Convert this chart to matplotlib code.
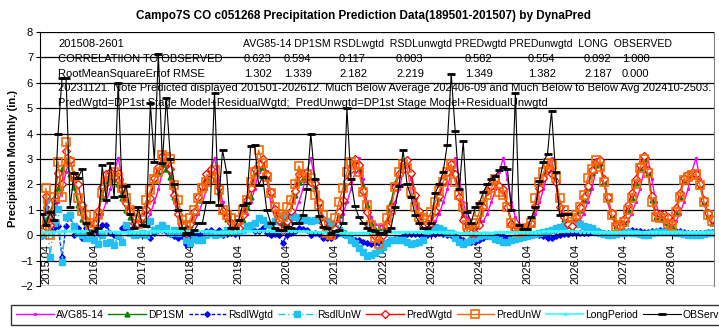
import numpy as np
import matplotlib.pyplot as plt

plt.rcParams['font.family'] = ['Liberation Sans', 'DejaVu Sans']

# ---------------------------------------------------------------------------
# DATA  (monthly, first point = 2015.03, one row per 12 months)
# ---------------------------------------------------------------------------

# 1985-2014 monthly average, same every year
avg85_14 = [0.35, 0.4, 0.55, 0.85, 1.3, 1.8, 2.5, 3.05, 2.2, 1.3, 0.7, 0.45]

dp1sm = [
    [0.2, 0.6, 0.9, 1.35, 1.85, 2.6, 2.95, 2.4, 1.9, 1.2, 0.65, 0.5],
    [0.3, 0.35, 0.9, 1.55, 2.05, 2.2, 2.3, 2.0, 1.45, 1.0, 0.7, 0.45],
    [0.4, 0.6, 1.0, 1.55, 2.15, 2.5, 2.8, 2.6, 2.3, 1.5, 0.9, 0.45],
    [0.3, 0.4, 0.9, 1.4, 1.9, 2.25, 2.4, 2.2, 1.7, 0.95, 0.65, 0.4],
    [0.25, 0.2, 0.6, 1.1, 1.5, 2.45, 2.65, 2.7, 2.3, 1.7, 1.0, 0.6],
    [0.5, 0.5, 0.85, 1.6, 2.1, 2.2, 2.2, 2.1, 1.95, 1.25, 0.6, 0.35],
    [0.15, 0.3, 0.8, 1.35, 2.15, 2.7, 2.95, 2.6, 1.95, 1.2, 0.5, 0.25],
    [0.2, 0.25, 0.6, 1.3, 2.05, 2.5, 2.85, 3.0, 2.45, 1.55, 0.9, 0.4],
    [0.5, 0.45, 0.9, 1.45, 2.1, 2.5, 2.8, 2.45, 1.6, 0.8, 0.45, 0.35],
    [0.35, 0.6, 1.2, 1.8, 1.95, 2.1, 2.0, 1.85, 1.2, 0.55, 0.35, 0.3],
    [0.25, 0.3, 0.45, 1.1, 1.85, 2.3, 2.75, 2.5, 2.15, 1.1, 0.65, 0.4],
    [0.25, 0.6, 1.0, 1.4, 1.85, 2.45, 2.75, 2.85, 2.1, 1.45, 0.8, 0.35],
    [0.25, 0.5, 1.0, 1.45, 2.05, 2.63, 3.0, 2.44, 1.38, 0.71, 0.67, 0.67],
    [0.5, 0.35, 0.9, 1.5, 2.15, 2.3, 2.35, 2.35, 1.95, 1.3, 0.75, 0.5],
]

rsdl_wgtd = [
    [-0.05, 1.1, 0.2, 0.3, 0.35, -0.85, 0.35, 0.8, 0.0, 0.3, -0.1, 0.3],
    [0.0, 0.35, 0.1, 0.4, 0.4, 0.1, 0.0, -0.05, 0.3, 0.25, 0.2, 0.05],
    [0.0, 0.1, 0.05, -0.1, 0.1, 0.2, 0.2, 0.15, 0.05, -0.05, -0.1, -0.05],
    [-0.35, 0.0, 0.05, 0.0, 0.1, 0.15, 0.2, 0.1, 0.2, 0.0, 0.05, 0.1],
    [0.05, 0.1, 0.2, 0.3, 0.35, 0.15, 0.15, 0.3, 0.1, 0.0, 0.05, 0.0],
    [-0.3, 0.0, 0.1, 0.15, 0.3, 0.25, 0.2, 0.0, 0.1, 0.05, -0.1, -0.1],
    [-0.1, -0.05, 0.1, 0.05, 0.0, -0.1, -0.2, -0.2, -0.25, -0.3, -0.35, -0.3],
    [-0.3, -0.25, -0.25, -0.2, -0.15, -0.1, -0.05, 0.05, 0.05, 0.05, 0.05, 0.0],
    [0.0, 0.05, 0.05, 0.1, 0.05, 0.0, 0.0, -0.05, -0.1, -0.2, -0.25, -0.25],
    [-0.25, -0.2, -0.1, -0.05, 0.0, 0.0, -0.05, -0.05, -0.1, -0.12, -0.1, -0.05],
    [0.0, 0.05, 0.05, 0.05, 0.0, -0.05, -0.1, -0.1, -0.05, 0.0, 0.05, 0.05],
    [0.1, 0.1, 0.1, 0.1, 0.1, 0.12, 0.13, 0.12, 0.1, 0.07, 0.07, 0.1],
    [0.13, 0.15, 0.18, 0.2, 0.18, 0.15, 0.13, 0.13, 0.15, 0.18, 0.2, 0.2],
    [0.2, 0.18, 0.16, 0.15, 0.12, 0.1, 0.08, 0.07, 0.08, 0.1, 0.12, 0.13],
]

rsdl_unw = [
    [0.0, 1.4, -0.85, 0.5, 1.05, -1.05, 0.7, 0.8, 0.35, 0.1, 0.0, -0.1],
    [-0.1, -0.2, -0.35, 0.0, -0.3, -0.25, -0.4, 0.0, -0.25, 0.4, 0.1, 0.0],
    [0.05, 0.1, 0.0, 0.55, 0.2, 0.3, 0.4, 0.3, 0.1, 0.2, 0.1, 0.5],
    [-0.2, -0.3, -0.15, -0.2, -0.2, 0.0, 0.1, 0.0, 0.05, 0.1, 0.2, 0.15],
    [0.3, 0.15, 0.2, 0.35, 0.4, 0.5, 0.66, 0.6, 0.45, 0.4, 0.55, 0.65],
    [0.7, 0.75, 0.8, 0.7, 0.65, 0.6, 0.6, 0.55, 0.6, 0.65, 0.6, 0.55],
    [0.5, 0.27, 0.2, 0.1, 0.0, -0.2, -0.3, -0.52, -0.66, -0.8, -0.78, -0.72],
    [-0.6, -0.45, -0.3, -0.2, -0.2, -0.2, -0.2, -0.25, -0.33, -0.3, -0.25, -0.2],
    [0.15, 0.25, 0.33, 0.3, 0.2, 0.1, 0.07, -0.1, -0.25, -0.33, -0.28, -0.2],
    [-0.1, -0.05, 0.0, 0.0, -0.05, -0.13, -0.2, -0.26, -0.26, -0.2, -0.15, -0.1],
    [-0.07, -0.03, 0.0, 0.03, 0.07, 0.12, 0.18, 0.22, 0.27, 0.33, 0.38, 0.42],
    [0.47, 0.46, 0.43, 0.38, 0.32, 0.27, 0.18, 0.1, 0.05, 0.0, 0.0, 0.03],
    [0.07, 0.1, 0.13, 0.1, 0.07, 0.03, 0.0, 0.02, 0.07, 0.13, 0.13, 0.13],
    [0.13, 0.13, 0.1, 0.07, 0.03, 0.0, 0.0, 0.0, 0.0, 0.03, 0.07, 0.1],
]

pred_wgtd = [
    [0.15, 1.55, 0.4, 1.4, 2.45, 2.0, 3.3, 2.95, 2.36, 2.0, 1.2, 0.6],
    [0.3, 0.5, 0.95, 1.9, 2.4, 2.5, 2.3, 2.45, 1.8, 1.25, 0.95, 0.5],
    [0.45, 0.7, 1.05, 1.45, 2.25, 2.7, 3.1, 2.9, 2.6, 1.6, 0.85, 0.4],
    [0.1, 0.45, 0.9, 1.5, 1.95, 2.4, 2.6, 2.35, 1.9, 0.95, 0.7, 0.5],
    [0.3, 0.3, 0.8, 1.4, 1.85, 2.6, 2.8, 3.0, 2.4, 1.7, 1.05, 0.6],
    [0.2, 0.55, 0.95, 1.75, 2.4, 2.45, 2.5, 2.1, 2.05, 1.3, 0.5, 0.25],
    [0.05, 0.25, 0.9, 1.4, 2.15, 2.6, 3.0, 2.75, 1.75, 0.9, 0.15, -0.05],
    [-0.1, 0.0, 0.35, 1.1, 1.9, 2.4, 2.8, 2.95, 2.45, 1.6, 0.95, 0.4],
    [0.5, 0.5, 0.95, 1.55, 2.15, 2.5, 2.8, 2.4, 1.5, 0.6, 0.2, 0.1],
    [0.1, 0.4, 1.1, 1.75, 1.95, 2.2, 1.95, 1.8, 1.1, 0.43, 0.25, 0.25],
    [0.25, 0.35, 0.5, 1.15, 1.85, 2.25, 2.65, 2.4, 2.1, 1.1, 0.7, 0.45],
    [0.35, 0.7, 1.1, 1.5, 1.95, 2.57, 2.88, 2.97, 2.2, 1.52, 0.87, 0.45],
    [0.38, 0.65, 1.18, 1.65, 2.23, 2.78, 3.1, 2.57, 1.53, 0.89, 0.85, 0.85],
    [0.7, 0.53, 1.06, 1.65, 2.27, 2.4, 2.43, 2.42, 2.03, 1.4, 0.87, 0.63],
]

pred_unw = [
    [0.2, 1.85, 0.0, 1.5, 2.9, 1.5, 3.65, 2.9, 2.3, 1.45, 0.95, 0.8],
    [0.35, 0.5, 0.8, 1.65, 2.15, 2.3, 2.5, 2.25, 1.85, 1.45, 0.98, 0.92],
    [0.45, 0.9, 1.38, 1.77, 2.2, 2.5, 3.15, 3.08, 3.0, 1.97, 1.38, 0.6],
    [0.4, 0.66, 1.0, 1.45, 1.85, 2.1, 2.2, 2.55, 1.77, 0.98, 0.8, 0.66],
    [0.27, 0.6, 0.98, 1.4, 2.1, 2.5, 3.35, 2.83, 2.3, 1.65, 1.1, 0.85],
    [0.72, 1.1, 1.4, 2.0, 2.73, 2.3, 2.4, 2.24, 1.57, 1.2, 0.8, 0.1],
    [0.0, 0.66, 1.3, 1.85, 2.48, 2.9, 2.75, 2.48, 1.7, 1.18, 0.4, -0.1],
    [-0.33, 0.3, 0.66, 1.0, 1.9, 2.48, 2.8, 2.63, 1.7, 1.1, 0.72, 0.66],
    [0.6, 0.9, 1.3, 1.75, 2.1, 2.5, 2.8, 2.1, 1.6, 1.1, 0.4, 0.2],
    [0.47, 0.9, 1.2, 1.6, 1.85, 2.2, 1.7, 1.6, 1.1, 0.5, 0.27, 0.13],
    [0.2, 0.3, 0.47, 1.45, 2.08, 2.48, 2.83, 2.76, 2.24, 1.45, 0.98, 0.72],
    [0.66, 0.8, 1.1, 1.57, 2.24, 2.6, 2.95, 2.7, 2.08, 1.45, 0.8, 0.33],
    [0.4, 0.52, 0.98, 1.45, 2.0, 2.63, 3.0, 2.44, 1.3, 0.72, 0.67, 0.67],
    [0.45, 0.35, 0.92, 1.5, 2.17, 2.28, 2.36, 2.4, 1.97, 1.3, 0.8, 0.55],
]

long_period = [
    [0.12, 0.13, 0.13, 0.14, 0.14, 0.15, 0.15, 0.15, 0.16, 0.16, 0.16, 0.16],
    [0.16, 0.16, 0.15, 0.15, 0.15, 0.14, 0.14, 0.14, 0.13, 0.13, 0.13, 0.13],
    [0.13, 0.14, 0.14, 0.15, 0.15, 0.16, 0.16, 0.17, 0.17, 0.17, 0.17, 0.17],
    [0.17, 0.17, 0.16, 0.16, 0.15, 0.15, 0.15, 0.14, 0.14, 0.14, 0.14, 0.14],
    [0.14, 0.15, 0.15, 0.16, 0.16, 0.17, 0.17, 0.18, 0.18, 0.18, 0.18, 0.18],
    [0.18, 0.17, 0.17, 0.16, 0.16, 0.15, 0.15, 0.14, 0.14, 0.13, 0.13, 0.13],
    [0.12, 0.12, 0.11, 0.11, 0.1, 0.1, 0.1, 0.1, 0.1, 0.1, 0.11, 0.11],
    [0.11, 0.12, 0.12, 0.12, 0.13, 0.13, 0.13, 0.13, 0.13, 0.13, 0.12, 0.12],
    [0.12, 0.12, 0.12, 0.11, 0.11, 0.11, 0.11, 0.11, 0.1, 0.1, 0.1, 0.1],
    [0.1, 0.1, 0.1, 0.1, 0.1, 0.11, 0.11, 0.11, 0.12, 0.12, 0.12, 0.13],
    [0.13, 0.13, 0.14, 0.14, 0.14, 0.15, 0.15, 0.15, 0.15, 0.15, 0.15, 0.15],
    [0.15, 0.15, 0.14, 0.14, 0.14, 0.13, 0.13, 0.13, 0.12, 0.12, 0.12, 0.12],
    [0.12, 0.12, 0.12, 0.12, 0.13, 0.13, 0.13, 0.14, 0.14, 0.14, 0.14, 0.14],
    [0.14, 0.14, 0.14, 0.14, 0.13, 0.13, 0.13, 0.13, 0.13, 0.12, 0.12, 0.12],
]

observed = [
    [0.85, 0.4, 0.9, 0.6, 4.0, 6.2, 6.2, 1.1, 2.45, 2.25, 2.6, 0.5],
    [0.1, 0.15, 0.3, 2.75, 1.4, 2.85, 1.5, 6.0, 1.55, 1.95, 0.85, 0.3],
    [1.1, 0.4, 0.37, 5.2, 2.9, 7.15, 2.85, 5.4, 3.0, 2.0, 1.0, 0.3],
    [0.1, 0.1, 0.2, 0.47, 0.5, 1.3, 1.3, 5.6, 1.2, 3.35, 2.5, 0.3],
    [0.3, 0.6, 1.2, 1.25, 3.5, 3.55, 1.97, 2.3, 1.0, 0.5, 0.3, 0.2],
    [0.2, 0.33, 0.3, 0.47, 0.5, 0.8, 1.8, 4.0, 2.2, 0.75, 0.33, 0.3],
    [0.1, 0.15, 0.2, 0.5, 5.0, 2.2, 1.15, 0.7, 0.5, 0.3, 0.2, 0.15],
    [0.1, 0.1, 0.15, 0.3, 1.1, 1.95, 3.35, 2.0, 1.5, 0.8, 0.5, 0.3],
    [0.3, 0.5, 1.65, 2.0, 2.5, 3.55, 6.35, 4.1, 1.8, 3.7, 0.9, 0.5],
    [1.1, 1.25, 1.7, 2.0, 2.2, 2.35, 2.55, 2.7, 2.6, 1.0, 5.6, 0.4],
    [0.25, 0.25, 0.7, 1.1, 2.15, 2.9, 3.2, 4.9, 2.5, 0.8, 0.85, 0.85],
]

tick_labels = ["2015.04", "2016.04", "2017.04", "2018.04", "2019.04", "2020.04",
               "2021.04", "2022.04", "2023.04", "2024.04", "2025.04", "2026.04",
               "2027.04", "2028.04"]

# statistics table written on the chart
header = "AVG85-14 DP1SM RSDLwgtd  RSDLunwgtd PREDwgtd PREDunwgtd  LONG  OBSERVED"
corr_vals = ["0.623", "0.594", "0.117", "0.003", "0.582", "0.554", "0.092", "1.000"]
rmse_vals = ["1.302", "1.339", "2.182", "2.219", "1.349", "1.382", "2.187", "0.000"]
note_1 = ("20231121. Note Predicted displayed 201501-202612. Much Below Average "
          "202406-09 and Much Below to Below Avg 202410-2503.")
note_2 = "PredWgtd=DP1st Stage Model+ResidualWgtd;  PredUnwgtd=DP1st Stage Model+ResidualUnwgtd"

# ---------------------------------------------------------------------------
# SERIES
# ---------------------------------------------------------------------------

n_years = len(dp1sm)
avg_series = np.tile(avg85_14, n_years)
dp1sm_s = np.ravel(dp1sm)
rsdlw_s = np.ravel(rsdl_wgtd)
rsdlu_s = np.ravel(rsdl_unw)
predw_s = np.ravel(pred_wgtd)
predu_s = np.ravel(pred_unw)
long_s = np.ravel(long_period)
obs_s = np.ravel(observed)

x = np.arange(len(dp1sm_s))
x_obs = np.arange(len(obs_s))

# ---------------------------------------------------------------------------
# PLOT
# ---------------------------------------------------------------------------

W, H = 719, 329
fig = plt.figure(figsize=(W / 100, H / 100), dpi=100)
ax = fig.add_axes([40 / W, 1 - 286 / H, 674 / W, 254 / H])

series = [
    ("AVG85-14", avg_series, x, dict(color="#FF00FF", lw=1.0, marker="s", ms=1.2)),
    ("DP1SM", dp1sm_s, x, dict(color="#008000", lw=1.0, marker="^", ms=3.5)),
    ("RsdlWgtd", rsdlw_s, x, dict(color="#0000FF", lw=1.0, ls=(0, (2.5, 1.5)),
                                  marker="D", ms=2.8)),
    ("RsdlUnW", rsdlu_s, x, dict(color="#21BFF3", lw=1.0, ls=(0, (5, 2, 1, 2)),
                                 marker="s", ms=4)),
    ("PredWgtd", predw_s, x, dict(color="#FF0000", lw=1.0, marker="D", ms=4.2,
                                  mfc="white", mew=0.9)),
    ("PredUnW", predu_s, x, dict(color="#FF6600", lw=1.0, marker="s", ms=5.5,
                                 mfc="none", mew=1.2)),
    ("LongPeriod", long_s, x, dict(color="#33FFFF", lw=1.2, marker="s", ms=1.5)),
    ("OBServed", obs_s, x_obs, dict(color="black", lw=0.8, marker="_", ms=6,
                                    mew=2.0)),
]

handles = []
for name, ys, xs, st in series:
    line, = ax.plot(xs, ys, label=name, **st)
    handles.append(line)

# x axis crosses at 0, as in the spreadsheet chart
ax.spines["bottom"].set_position(("data", 0))
ax.spines["top"].set_visible(False)
ax.spines["right"].set_color("#808080")
ax.axhline(-2, color="#808080", lw=1.0)

ax.set_xlim(-0.5, len(x) - 0.5)
ax.set_ylim(-2, 8)
ax.set_yticks(range(-2, 9))
ax.yaxis.grid(True, color="black", lw=0.9)
ax.set_axisbelow(True)

ax.set_xticks(np.arange(1, len(x), 12))
ax.set_xticklabels(tick_labels)
ax.tick_params(axis="x", length=3, pad=3, direction="out", labelrotation=90,
               labelsize=8)
ax.tick_params(axis="y", length=3, labelsize=8, pad=2)

ax.set_ylabel("Precipitation Monthly (in.)", fontsize=8, fontweight="bold", labelpad=2)
fig.suptitle("Campo7S CO c051268 Precipitation Prediction Data(189501-201507) by DynaPred",
             x=363 / W, y=1 - 10 / H, va="top", fontsize=8.5, fontweight="bold")


def put(px, py, s, size=8):
    fig.text(px / W, 1 - py / H, s, fontsize=size, va="center", ha="left")


put(58, 44, "201508-2601")
put(58, 59, "CORRELATIION TO OBSERVED")
put(58, 74, "RootMeanSquareErrof RMSE")
put(243, 44, header, size=7.6)
for cx, c, r in zip([244, 284, 339, 396, 465, 528, 584, 622], corr_vals, rmse_vals):
    put(cx, 59, c)
    put(cx, 74, r)
put(58, 88, note_1)
put(58, 103, note_2)

fig.legend(handles=handles, labels=[h.get_label() for h in handles],
           loc="lower left", bbox_to_anchor=(11 / W, 1 - 325 / H, 725 / W, 27 / H),
           mode="expand", ncol=8, fontsize=7.5, frameon=True, fancybox=False,
           edgecolor="black", borderaxespad=0, handlelength=3.6, handletextpad=0.2,
           borderpad=0.5)

fig.savefig("out.png", dpi=100)
